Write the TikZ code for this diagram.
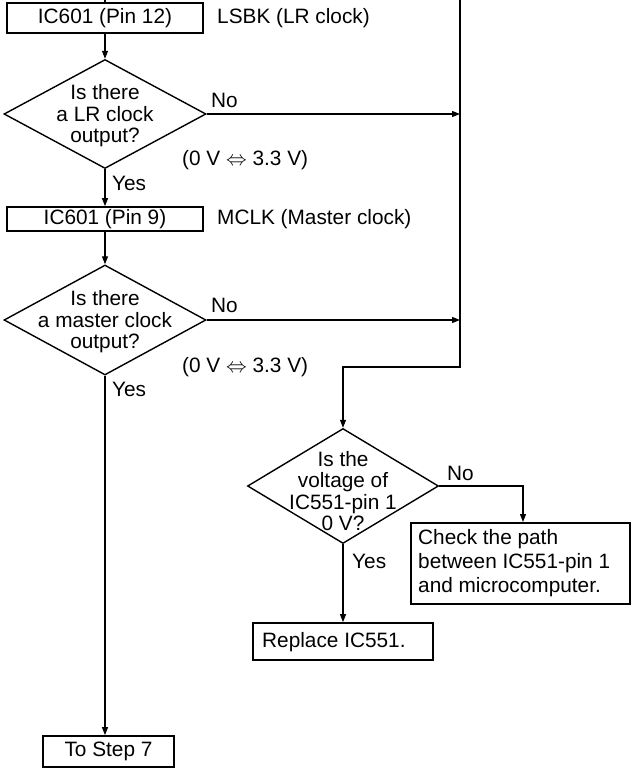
\documentclass[tikz,border=0pt]{standalone}
\usepackage{fontspec}
\setmainfont{Liberation Sans}
\usetikzlibrary{arrows.meta,shapes.geometric}
\begin{document}
\begin{tikzpicture}[x=1pt,y=-1pt,
  font=\fontsize{20.8}{22}\selectfont,
  box/.style={draw,line width=1.8pt,inner sep=0pt,align=center},
  dia/.style={draw,shape=diamond,line width=1.4pt,inner sep=0pt},
  dtext/.style={align=center,inner sep=0pt,font=\fontsize{20.8}{21.5}\selectfont},
  lbl/.style={anchor=west,inner sep=0pt},
  conn/.style={line width=1.1pt},
  arr/.style={conn,-{Triangle[length=8pt,width=6pt]}}]
\useasboundingbox (0,0) rectangle (631,768);
% top boxes and diamonds
\node[box,minimum width=196pt,minimum height=30pt] (b1) at (105,18) {IC601 (Pin 12)};
\node[lbl] (l1) at (217,18) {LSBK (LR clock)};
\node[dia,minimum width=202pt,minimum height=109pt] (d1) at (105,114) {};
\node[dtext] (t1) at (105,116) {Is there\\a LR clock\\output?};
\node[lbl] (n1) at (211,100) {No};
\node[lbl] (v1) at (182,160) {(0 V $\Leftrightarrow$ 3.3 V)};
\node[lbl] (y1) at (112,183) {Yes};
\node[box,minimum width=196pt,minimum height=24pt] (b2) at (105,219) {IC601 (Pin 9)};
\node[lbl] (l2) at (217,219) {MCLK (Master clock)};
\node[dia,minimum width=202pt,minimum height=110pt] (d2) at (105,320) {};
\node[dtext] (t2) at (105,322) {Is there\\a master clock\\output?};
\node[lbl] (n2) at (211,305) {No};
\node[lbl] (v2) at (182,367) {(0 V $\Leftrightarrow$ 3.3 V)};
\node[lbl] (y2) at (112,389) {Yes};
\node[box,minimum width=131pt,minimum height=31pt] (s7) at (108.5,751.5) {To Step 7};
% right part
\node[dia,minimum width=191pt,minimum height=115pt] (d3) at (343,486) {};
\node[dtext] (t3) at (343,491) {Is the\\voltage of\\IC551-pin 1\\0 V?};
\node[lbl] (n3) at (447,473) {No};
\node[lbl] (y3) at (352,561) {Yes};
\node[box,minimum width=219pt,minimum height=81pt,align=left,anchor=north west,text width=205pt,inner sep=0pt,font=\fontsize{20.8}{24.3}\selectfont] (ck) at (410,522) {};
\node[anchor=west,align=left,inner sep=0pt,font=\fontsize{20.8}{24.3}\selectfont] (ckt) at (418,563) {Check the path\\between IC551-pin 1\\and microcomputer.};
\node[box,minimum width=180pt,minimum height=37pt] (rp) at (343,641.5) {};
\node[lbl] (rpt) at (262,642) {Replace IC551.};
% coordinates
\coordinate (top1) at (105,0);
\coordinate (vtop) at (460,0);
\coordinate (vbot) at (460,367);
\coordinate (jog) at (343,367);
\coordinate (j1) at (460,114);
\coordinate (j2) at (460,320);
\coordinate (ckc) at (523,486);
% connectors
\draw[conn] (top1) -- (b1.north);
\draw[arr] (b1.south) -- (d1.north);
\draw[arr] (d1.east) -- (j1);
\draw[arr] (d1.south) -- (b2.north);
\draw[arr] (b2.south) -- (d2.north);
\draw[arr] (d2.east) -- (j2);
\draw[arr] (d2.south) -- (d2.south |- s7.north);
\draw[arr] (vtop) -- (vbot) -- (jog) -- (d3.north);
\draw[arr] (d3.east) -- (ckc) -- (ckc |- ck.north);
\draw[arr] (d3.south) -- (rp.north);
\end{tikzpicture}
\end{document}
